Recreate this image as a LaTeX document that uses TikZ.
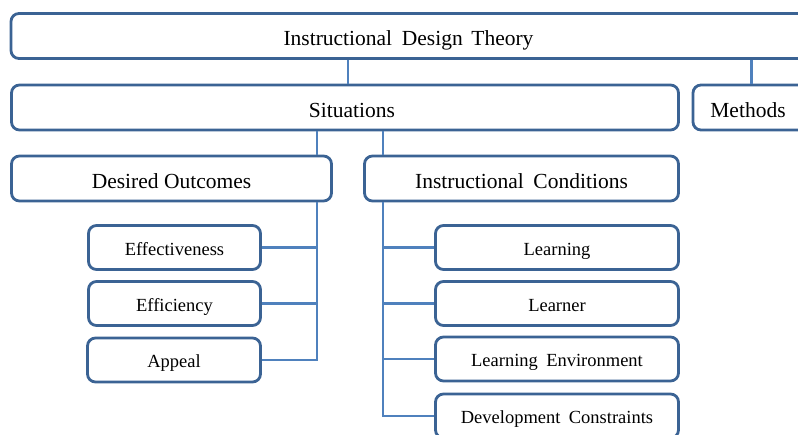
\documentclass[tikz,border=0pt]{standalone}
\usepackage{fontspec}
\setmainfont{Liberation Serif}
\usepackage{xcolor}
\usepackage{tikz}

\definecolor{boxline}{HTML}{3B6394}
\definecolor{linkline}{HTML}{4F81BD}

\begin{document}
\begin{tikzpicture}[x=1pt, y=-1pt]
\useasboundingbox (0,0) rectangle (798,434);
\begin{scope}[every node/.style={draw=boxline, line width=2.8pt, fill=white, rounded corners=8pt, inner sep=0pt, minimum height=45pt, text height=19pt, text depth=0pt, font=\fontsize{21.5}{24}\selectfont}]
    \node[minimum width=795pt] (idt) at (408.5,36) {Instructional\hspace{0.2em} Design\hspace{0.15em} Theory};
    \node[minimum width=667pt] (sit) at (345,107.5) {\hspace{14pt}Situations};
    \node[minimum width=117pt] (meth) at (751.5,107.5) {\hspace{-7pt}Methods};
    \node[minimum width=320pt] (do) at (171.5,178.5) {Desired Outcomes};
    \node[minimum width=314pt] (ic) at (521.5,178.5) {Instructional\hspace{0.2em} Conditions};
\end{scope}
\begin{scope}[every node/.style={draw=boxline, line width=2.8pt, fill=white, rounded corners=8pt, inner sep=0pt, minimum height=44pt, text height=15pt, text depth=0pt, font=\fontsize{18.5}{21}\selectfont}]
    \node[minimum width=172pt] (eff) at (174.5,247.5) {Effectiveness};
    \node[minimum width=172pt] (effi) at (174.5,303.5) {Efficiency};
    \node[minimum width=173pt] (app) at (174,360) {Appeal};
    \node[minimum width=243pt] (lrn) at (557,247.5) {Learning};
    \node[minimum width=243pt] (lnr) at (557,303.5) {Learner};
    \node[minimum width=243pt] (env) at (557,359) {Learning\hspace{0.2em} Environment};
    \node[minimum width=243pt] (dev) at (557,416) {Development\hspace{0.2em} Constraints};
\end{scope}
% branch lines
\coordinate (tl) at (348,0);
\coordinate (dl) at (317,0);
\coordinate (dr) at (383,0);
\begin{scope}[every path/.style={draw=linkline, line width=2.2pt}]
    \draw (sit.north -| tl) -- (idt.south -| tl);
    \draw (meth.north) -- (meth.north |- idt.south);
    \draw (sit.south -| dl) -- (do.north -| dl);
    \draw (sit.south -| dr) -- (ic.north -| dr);
    \draw (do.south -| dl) |- (app.east);
    \draw (eff.east) -- (eff.east -| dl);
    \draw (effi.east) -- (effi.east -| dl);
    \draw (ic.south -| dr) |- (dev.west);
    \draw (lrn.west) -- (lrn.west -| dr);
    \draw (lnr.west) -- (lnr.west -| dr);
    \draw (env.west) -- (env.west -| dr);
\end{scope}
\end{tikzpicture}
\end{document}
